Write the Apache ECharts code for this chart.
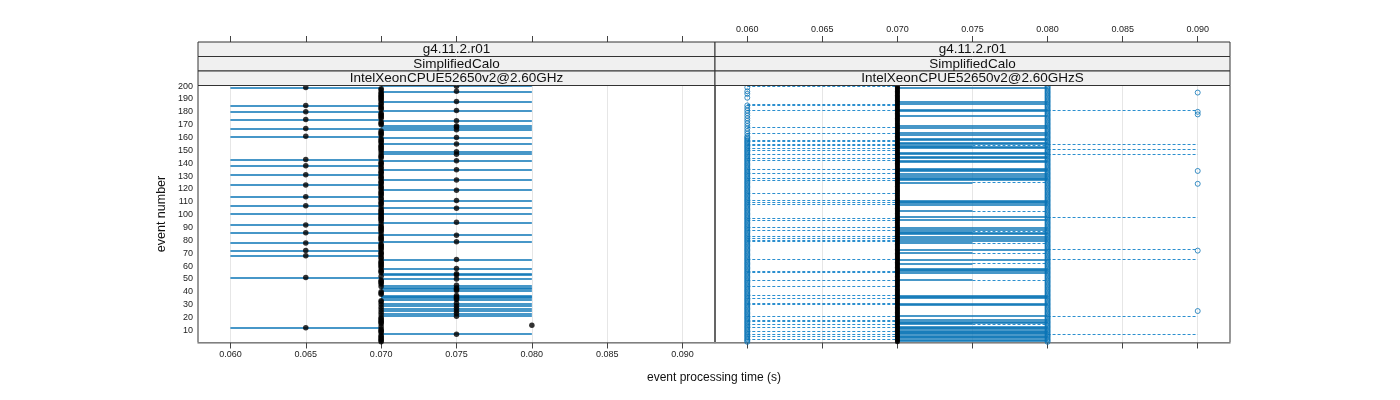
<!DOCTYPE html>
<html><head><meta charset="utf-8">
<script src="https://cdn.jsdelivr.net/npm/echarts@6/dist/echarts.min.js"></script>
<style>html,body{margin:0;padding:0;background:#fff}#c{width:1400px;height:400px}</style>
</head><body><div id="c"></div>
<script>
// ---------------- data ----------------
const eventCount = 200;
const xTicks = [0.060, 0.065, 0.070, 0.075, 0.080, 0.085, 0.090];
const yTicks = [10, 20, 30, 40, 50, 60, 70, 80, 90, 100, 110, 120, 130, 140, 150, 160, 170, 180, 190, 200];
const stripLabelsLeft = ['g4.11.2.r01', 'SimplifiedCalo', 'IntelXeonCPUE52650v2@2.60GHz'];
const stripLabelsRight = ['g4.11.2.r01', 'SimplifiedCalo', 'IntelXeonCPUE52650v2@2.60GHzS'];
const xTitle = 'event processing time (s)';
const yTitle = 'event number';

// left panel: [dot, range start, range end]
const leftFastEvents = [199, 185, 180, 174, 167, 161, 143, 138, 131, 123, 114, 107, 92, 86, 78, 72, 68, 51, 12];
const leftFastValue = [0.065, 0.060, 0.070];
const leftSlowEvents = [200, 196, 188, 181, 173, 169, 168, 166, 160, 155, 149, 147, 142, 135, 127, 119, 111, 105, 94, 84, 79,
  65, 58, 54, 53, 50, 45, 43, 42, 41, 37, 36, 35, 34, 31, 29, 27, 25, 23, 21, 7];
const leftSlowValue = [0.075, 0.070, 0.080];
const leftWideEvents = [101];
const leftWideValue = [0.070, 0.060, 0.080];
const leftPeakEvents = [14];
const leftPeakValue = 0.080;
const leftBaseValue = 0.070;   // every other event

// right panel
const rightMedianValue = 0.070;   // every event
const rightUpperPointValue = 0.080; // every event
const rightLowPointValue = 0.060;
const rightLowPointSparse = [199, 196, 194, 191, 185, 183, 181, 179, 177, 175, 173, 171, 169, 167, 165, 163, 161];
const rightLowPointDenseUpTo = 160;
const rightHighPointEvents = [195, 180, 178, 134, 124, 72, 25];
const rightHighPointValue = 0.090;
const rightBoxEvents = [199, 188, 186, 182, 181, 177, 169, 168, 164, 162, 159, 158, 156, 155, 153, 152, 148, 147, 145, 144, 142, 141,
  136, 135, 134, 132, 130, 129, 128, 127, 111, 110, 109, 108, 98, 96, 90, 88, 86, 85, 83, 81, 80, 73, 65, 58, 57, 56, 55,
  37, 36, 35, 31, 30, 21, 18, 17, 16, 13, 12, 11, 10, 9, 8, 7, 6, 5, 4, 3, 2];
const rightBoxRange = [0.070, 0.080];
const rightHalfBoxEvents = [154, 125, 103, 87, 78, 70, 62, 49, 15];
const rightHalfBoxRange = [0.070, 0.075, 0.080];
const rightLowWhiskerEvents = [200, 186, 185, 181, 168, 163, 158, 157, 155, 154, 152, 150, 147, 144, 142, 135, 132, 128, 127, 117,
  111, 110, 108, 97, 96, 90, 88, 83, 82, 80, 79, 65, 56, 55, 49, 44, 37, 35, 31, 30, 21, 18, 17, 15, 12, 9, 7, 5, 3];
const rightLowWhiskerRange = [0.060, 0.070];
const rightHighWhiskerEvents = [181, 155, 151, 147, 98, 73, 65, 21, 7];
const rightHighWhiskerRange = [0.080, 0.090];

// ---------------- build ----------------
const events = [];
for (let i = 1; i <= eventCount; i++) events.push(i);

const BLUE = '#0a74b6';
const DASH_BLUE = '#2b8fcf';
const seg = (a, b, y) => ({ coords: [[a, y], [b, y]] });

const leftSolid = []
  .concat(leftFastEvents.map(e => seg(leftFastValue[1], leftFastValue[2], e)))
  .concat(leftSlowEvents.map(e => seg(leftSlowValue[1], leftSlowValue[2], e)))
  .concat(leftWideEvents.map(e => seg(leftWideValue[1], leftWideValue[2], e)));
const special = new Set([].concat(leftFastEvents, leftSlowEvents, leftWideEvents, leftPeakEvents));
const leftDots = []
  .concat(events.filter(e => !special.has(e)).map(e => [leftBaseValue, e]))
  .concat(leftFastEvents.map(e => [leftFastValue[0], e]))
  .concat(leftSlowEvents.map(e => [leftSlowValue[0], e]))
  .concat(leftWideEvents.map(e => [leftWideValue[0], e]))
  .concat(leftPeakEvents.map(e => [leftPeakValue, e]));

const rightDashed = []
  .concat(rightLowWhiskerEvents.map(e => seg(rightLowWhiskerRange[0], rightLowWhiskerRange[1], e)))
  .concat(rightHighWhiskerEvents.map(e => seg(rightHighWhiskerRange[0], rightHighWhiskerRange[1], e)))
  .concat(rightHalfBoxEvents.map(e => seg(rightHalfBoxRange[1], rightHalfBoxRange[2], e)));
const rightSolid = []
  .concat(rightBoxEvents.map(e => seg(rightBoxRange[0], rightBoxRange[1], e)))
  .concat(rightHalfBoxEvents.map(e => seg(rightHalfBoxRange[0], rightHalfBoxRange[1], e)));
const rightOpen = []
  .concat(rightLowPointSparse.map(e => [rightLowPointValue, e]))
  .concat(events.filter(e => e <= rightLowPointDenseUpTo).map(e => [rightLowPointValue, e]))
  .concat(events.map(e => [rightUpperPointValue, e]))
  .concat(rightHighPointEvents.map(e => [rightHighPointValue, e]));
const rightMedian = events.map(e => [rightMedianValue, e]);

// ---------------- layout ----------------
const P = { top: 85.5, height: 257, lx: 198, lw: 517, rx: 715, rw: 515, stripTop: 42, stripH: 14.5 };
const XMIN = 0.05785, XMAX = 0.09215;
const FONT = '"Liberation Sans", Arial, sans-serif';

function xAxisDef(grid, pos, showLabel, showSplit) {
  return {
    type: 'value', gridIndex: grid, position: pos, min: XMIN, max: XMAX,
    offset: pos === 'top' ? (P.top - P.stripTop) : 0,
    axisLine: { show: pos === 'bottom', lineStyle: { color: '#999', width: 1.5 } },
    axisTick: { show: true, length: 6, inside: false, customValues: xTicks, lineStyle: { color: '#444' } },
    axisLabel: { show: showLabel, customValues: xTicks, formatter: v => v.toFixed(3), fontSize: 9, color: '#222', margin: 8, fontFamily: FONT },
    splitLine: { show: showSplit, lineStyle: { color: '#e6e6e6', width: 1 } }
  };
}

const graphics = [];
[[P.lx, P.lw, stripLabelsLeft], [P.rx, P.rw, stripLabelsRight]].forEach(([x, w, labels]) => {
  labels.forEach((t, j) => {
    graphics.push({
      type: 'rect', shape: { x: x, y: P.stripTop + j * P.stripH, width: w, height: P.stripH },
      style: { fill: '#f0f0f0', stroke: '#333', lineWidth: 1 }, z: 10
    });
    graphics.push({
      type: 'text', x: x + w / 2, y: P.stripTop + j * P.stripH + P.stripH / 2 + 0.5, z: 11,
      style: { text: t, fill: '#111', font: '13.5px ' + FONT, textAlign: 'center', textVerticalAlign: 'middle' }
    });
  });
});
graphics.push({
  type: 'text', x: (P.lx + P.rx + P.rw) / 2, y: 378, z: 11,
  style: { text: xTitle, fill: '#111', font: '12px ' + FONT, textAlign: 'center', textVerticalAlign: 'middle' }
});

const chart = echarts.init(document.getElementById('c'), null, { renderer: 'canvas' });
chart.setOption({
  animation: false,
  backgroundColor: '#fff',
  textStyle: { fontFamily: FONT },
  grid: [
    { left: P.lx, top: P.top, width: P.lw, height: P.height, show: true, borderColor: '#333', borderWidth: 1, backgroundColor: 'transparent' },
    { left: P.rx, top: P.top, width: P.rw, height: P.height, show: true, borderColor: '#333', borderWidth: 1, backgroundColor: 'transparent' }
  ],
  xAxis: [
    xAxisDef(0, 'bottom', true, true),
    xAxisDef(1, 'bottom', false, true),
    xAxisDef(0, 'top', false, false),
    xAxisDef(1, 'top', true, false)
  ],
  yAxis: [
    {
      type: 'value', gridIndex: 0, min: 0.5, max: 200.5, position: 'left',
      name: yTitle, nameLocation: 'middle', nameGap: 30, nameRotate: 90,
      nameTextStyle: { fontSize: 12.5, color: '#111', fontFamily: FONT },
      axisLine: { show: false }, axisTick: { show: false },
      axisLabel: { customValues: yTicks, fontSize: 9, color: '#222', margin: 5, fontFamily: FONT },
      splitLine: { show: false }
    },
    {
      type: 'value', gridIndex: 1, min: 0.5, max: 200.5,
      axisLine: { show: false }, axisTick: { show: false }, axisLabel: { show: false }, splitLine: { show: false }
    }
  ],
  series: [
    {
      type: 'lines', coordinateSystem: 'cartesian2d', xAxisIndex: 0, yAxisIndex: 0, silent: true, z: 2,
      lineStyle: { color: BLUE, width: 1.6, opacity: 1 }, data: leftSolid
    },
    {
      type: 'scatter', xAxisIndex: 0, yAxisIndex: 0, silent: true, z: 4, symbol: 'circle', symbolSize: 5.5,
      itemStyle: { color: '#000' }, data: leftDots
    },
    {
      type: 'lines', coordinateSystem: 'cartesian2d', xAxisIndex: 1, yAxisIndex: 1, silent: true, z: 2,
      lineStyle: { color: DASH_BLUE, width: 1, type: [3, 2], opacity: 1 }, data: rightDashed
    },
    {
      type: 'lines', coordinateSystem: 'cartesian2d', xAxisIndex: 1, yAxisIndex: 1, silent: true, z: 2,
      lineStyle: { color: BLUE, width: 1.6, opacity: 1 }, data: rightSolid
    },
    {
      type: 'scatter', xAxisIndex: 1, yAxisIndex: 1, silent: true, z: 3, symbol: 'circle', symbolSize: 5,
      itemStyle: { color: 'rgba(0,0,0,0)', borderColor: BLUE, borderWidth: 1 }, data: rightOpen
    },
    {
      type: 'scatter', xAxisIndex: 1, yAxisIndex: 1, silent: true, z: 4, symbol: 'circle', symbolSize: 5,
      itemStyle: { color: '#000' }, data: rightMedian
    }
  ],
  graphic: graphics
});
</script>
</body></html>
